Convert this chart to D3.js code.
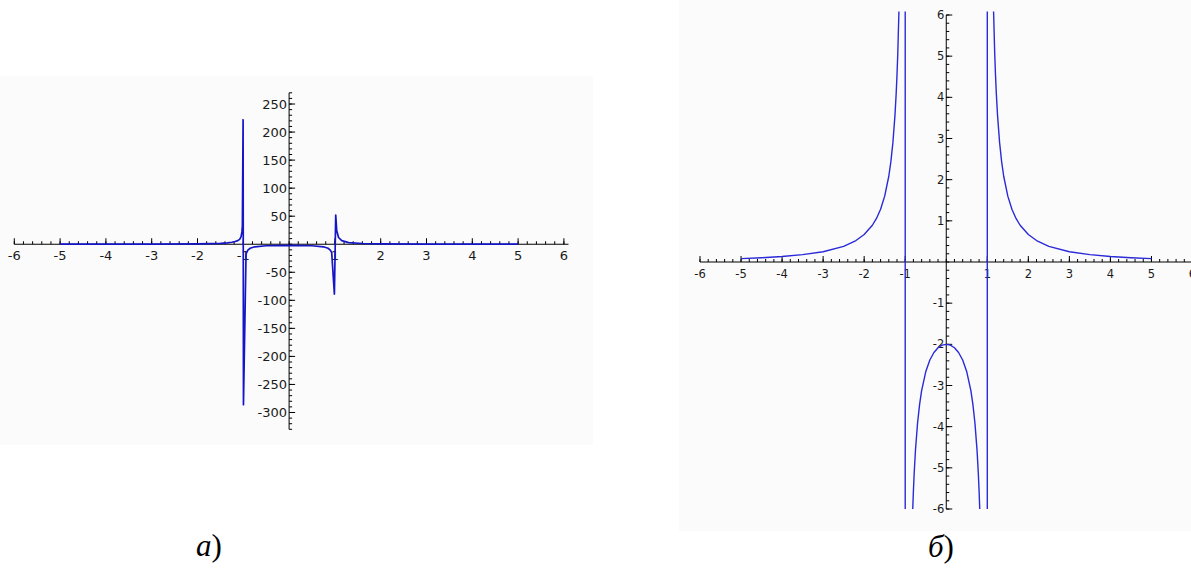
<!DOCTYPE html>
<html>
<head>
    <meta charset="utf-8">
    <title>y = 2/(x^2-1)</title>
    <script src="https://cdn.jsdelivr.net/npm/d3@7"></script>
    <style>
        body { margin: 0; background: #fff; }
        svg { display: block; }
        .tick-label { font-family: "DejaVu Sans", sans-serif; fill: #1a1a1a; }
        .caption { font-family: "Liberation Serif", "Times New Roman", serif; font-size: 31px; fill: #000; }
    </style>
</head>
<body>
<svg width="1191" height="572" id="mainsvg"></svg>
<script>
    // --- panel a): coarse sampled plot, values read from the picture ---
    const leftX = [-5, -4, -3, -2, -1.7, -1.5, -1.35, -1.25, -1.18, -1.12, -1.08, -1.05, -1.03, -1.02,
        -1.0045, -0.9965, -0.94, -0.9, -0.85, -0.75, -0.5, 0, 0.5, 0.75, 0.85, 0.9, 0.93,
        0.989, 1.018, 1.04, 1.08, 1.15, 1.3, 1.6, 2, 3, 4, 5];
    const leftY = [0.08, 0.13, 0.25, 0.67, 1.06, 1.6, 2.4, 3.6, 4.8, 6.5, 8.7, 13, 22, 33,
        222, -286, -17, -10.5, -7.2, -4.6, -2.7, -2, -2.7, -4.6, -7.2, -10.5, -15,
        -89, 52, 24, 12, 6.4, 2.9, 1.3, 0.67, 0.25, 0.13, 0.08];
    const leftXTicks = [-6, -5, -4, -3, -2, -1, 1, 2, 3, 4, 5, 6];
    const leftYTicks = [-300, -250, -200, -150, -100, -50, 50, 100, 150, 200, 250];

    // --- panel б): fine plot ---
    const rightX = [-5, -4.5, -4, -3.5, -3, -2.5, -2.2, -2, -1.8, -1.7, -1.6, -1.5, -1.4, -1.35, -1.3, -1.25, -1.22, -1.2,
        -1.18, -1.15, -1.1, -1.05, -1.0001, -0.9999, -0.95, -0.9, -0.85, -0.82, -0.8, -0.78, -0.75, -0.7, -0.65, -0.6, -0.5, -0.4,
        -0.3, -0.2, -0.1, 0, 0.1, 0.2, 0.3, 0.4, 0.5, 0.6, 0.65, 0.7, 0.75, 0.78, 0.8, 0.82, 0.85, 0.9, 0.95, 0.9999,
        1.0001, 1.05, 1.1, 1.15, 1.18, 1.2, 1.22, 1.25, 1.3, 1.35, 1.4, 1.5, 1.6, 1.7, 1.8, 2, 2.2, 2.5, 3, 3.5, 4, 4.5, 5];
    const rightY = [0.083, 0.103, 0.133, 0.178, 0.25, 0.381, 0.521, 0.667, 0.893, 1.058, 1.282, 1.6, 2.083, 2.432, 2.899, 3.556, 4.095, 4.545,
        5.097, 6.202, 9.524, 19.51, 9999, -10001, -20.51, -10.53, -7.207, -6.105, -5.556, -5.107, -4.571, -3.922, -3.463, -3.125, -2.667, -2.381,
        -2.198, -2.083, -2.02, -2, -2.02, -2.083, -2.198, -2.381, -2.667, -3.125, -3.463, -3.922, -4.571, -5.107, -5.556, -6.105, -7.207, -10.53, -20.51, -10001,
        9999, 19.51, 9.524, 6.202, 5.097, 4.545, 4.095, 3.556, 2.899, 2.432, 2.083, 1.6, 1.282, 1.058, 0.893, 0.667, 0.521, 0.381, 0.25, 0.178, 0.133, 0.103, 0.083];
    const rightXTicks = [-6, -5, -4, -3, -2, -1, 1, 2, 3, 4, 5, 6];
    const rightYTicks = [-6, -5, -4, -3, -2, -1, 1, 2, 3, 4, 5, 6];

    const svg = d3.select('#mainsvg');

    // draws one Sage-like panel: axes crossing at origin, ticks pointing up / right
    function drawPanel(opt) {
        const g = svg.append('g');
        g.append('rect')
            .attr('x', opt.bg[0]).attr('y', opt.bg[1])
            .attr('width', opt.bg[2]).attr('height', opt.bg[3])
            .attr('fill', '#fbfbfb');

        const x = opt.x, y = opt.y;
        const x0 = x(0), y0 = y(0);

        // axis lines
        g.append('line')
            .attr('x1', x(opt.xLine[0])).attr('x2', x(opt.xLine[1]))
            .attr('y1', y0).attr('y2', y0)
            .attr('stroke', '#000').attr('stroke-width', 1);
        g.append('line')
            .attr('x1', x0).attr('x2', x0)
            .attr('y1', y(opt.yLine[0])).attr('y2', y(opt.yLine[1]))
            .attr('stroke', '#000').attr('stroke-width', 1);

        // minor ticks
        const xMinor = d3.range(opt.xLine[0], opt.xLine[1] + 1e-9, opt.xMinor);
        g.selectAll('.xmin').data(xMinor).join('line')
            .attr('x1', d => x(d)).attr('x2', d => x(d))
            .attr('y1', y0).attr('y2', y0 - 3)
            .attr('stroke', '#000').attr('stroke-width', 1);
        const yMinor = d3.range(opt.yLine[0], opt.yLine[1] + 1e-9, opt.yMinor);
        g.selectAll('.ymin').data(yMinor).join('line')
            .attr('x1', x0).attr('x2', x0 + 3)
            .attr('y1', d => y(d)).attr('y2', d => y(d))
            .attr('stroke', '#000').attr('stroke-width', 1);

        // major ticks
        g.selectAll('.xmaj').data(opt.xTicks).join('line')
            .attr('x1', d => x(d)).attr('x2', d => x(d))
            .attr('y1', y0).attr('y2', y0 - 6)
            .attr('stroke', '#000').attr('stroke-width', 1);
        g.selectAll('.ymaj').data(opt.yTicks).join('line')
            .attr('x1', x0).attr('x2', x0 + 6)
            .attr('y1', d => y(d)).attr('y2', d => y(d))
            .attr('stroke', '#000').attr('stroke-width', 1);

        // tick labels
        g.selectAll('.xl').data(opt.xTicks).join('text')
            .attr('class', 'tick-label')
            .attr('x', d => x(d)).attr('y', y0 + opt.xLabelDy)
            .attr('text-anchor', 'middle')
            .style('font-size', opt.fontSize + 'px')
            .text(d => d);
        g.selectAll('.yl').data(opt.yTicks).join('text')
            .attr('class', 'tick-label')
            .attr('x', x0 - 2).attr('y', d => y(d))
            .attr('dy', '0.36em')
            .attr('text-anchor', 'end')
            .style('font-size', opt.fontSize + 'px')
            .text(d => d);

        // curve
        const pts = d3.zip(opt.xs, opt.ys);
        const line = d3.line().x(d => x(d[0])).y(d => y(d[1]));
        const path = g.append('path')
            .datum(pts)
            .attr('d', line)
            .attr('fill', 'none')
            .attr('stroke', opt.color)
            .attr('stroke-width', opt.lw)
            .attr('stroke-linejoin', 'round');
        if (opt.clip) {
            svg.append('clipPath').attr('id', opt.clip.id)
                .append('rect')
                .attr('x', opt.bg[0]).attr('width', opt.bg[2])
                .attr('y', opt.clip.top).attr('height', opt.clip.bottom - opt.clip.top);
            path.attr('clip-path', `url(#${opt.clip.id})`);
        }
    }

    // panel a)
    drawPanel({
        bg: [0, 76, 593, 369],
        x: d3.scaleLinear().domain([-6, 6]).range([14.3, 563.9]),
        y: d3.scaleLinear().domain([-333, 275]).range([431, 90]),
        xLine: [-6, 6.1], yLine: [-330, 270],
        xMinor: 0.2, yMinor: 10,
        xTicks: leftXTicks, yTicks: leftYTicks,
        xLabelDy: 16, fontSize: 13,
        xs: leftX, ys: leftY,
        color: '#1515c8', lw: 1.7
    });

    // panel б)
    drawPanel({
        bg: [679, 0, 512, 531],
        x: d3.scaleLinear().domain([-6, 6]).range([700, 1192.5]),
        y: d3.scaleLinear().domain([-6, 6]).range([509, 15]),
        xLine: [-6, 6.2], yLine: [-6, 6],
        xMinor: 0.2, yMinor: 0.2,
        xTicks: rightXTicks, yTicks: rightYTicks,
        xLabelDy: 16, fontSize: 11.5,
        xs: rightX, ys: rightY,
        color: '#2a2ad8', lw: 1.4,
        clip: { id: 'clipR', top: 11.5, bottom: 509 }
    });

    // captions
    const capA = svg.append('text').attr('class', 'caption').attr('x', 196).attr('y', 556);
    capA.append('tspan').style('font-style', 'italic').text('а');
    capA.append('tspan').text(')');
    const capB = svg.append('text').attr('class', 'caption').attr('x', 928).attr('y', 557);
    capB.append('tspan').style('font-style', 'italic').text('б');
    capB.append('tspan').text(')');
</script>
</body>
</html>
